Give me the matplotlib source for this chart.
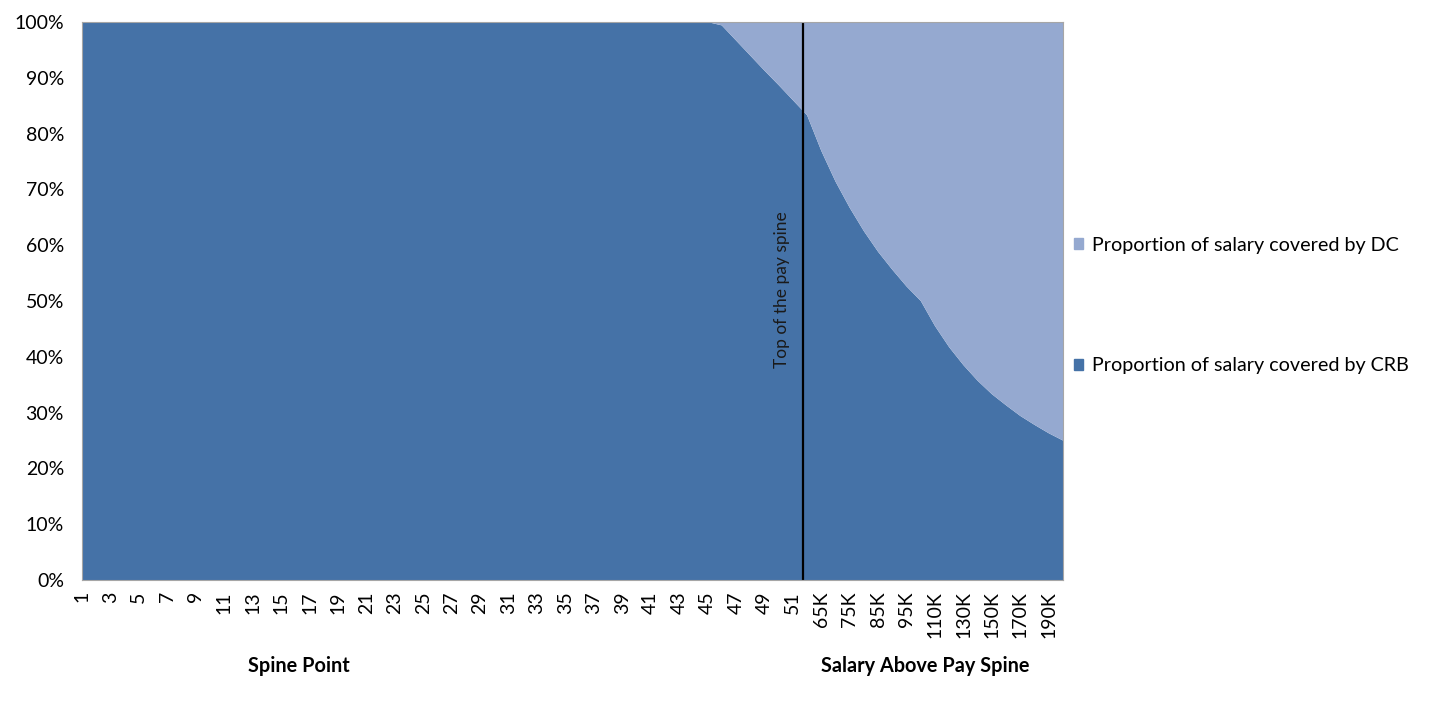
import matplotlib
matplotlib.use("Agg")
import matplotlib.pyplot as plt
from matplotlib.patches import Patch
from matplotlib.ticker import FuncFormatter, MultipleLocator

plt.rcParams["font.family"] = ["Lato", "DejaVu Sans"]

# categories: spine points 1-51, then salaries above the pay spine
spine_points = [str(i) for i in range(1, 52)]
salaries = ["60K", "65K", "70K", "75K", "80K", "85K", "90K", "95K", "100K",
            "110K", "120K", "130K", "140K", "150K", "160K", "170K", "180K",
            "190K", "200K"]
categories = spine_points + salaries

# proportion of salary covered by CRB (%)
crb_spine = [100.0] * 45 + [99.4, 96.7, 94.0, 91.3, 88.7, 86.0]
crb_salary = [83.3, 76.9, 71.4, 66.7, 62.5, 58.8, 55.6, 52.6, 50.0,
              45.5, 41.7, 38.5, 35.7, 33.3, 31.3, 29.4, 27.8, 26.3, 25.0]
crb = crb_spine + crb_salary
dc = [100.0 - v for v in crb]

pay_spine_top = 50.7  # position of the marker line (category index)

dark = "#4572A7"
light = "#95A9D0"

fig = plt.figure(figsize=(14.41, 7.04), dpi=100)
ax = fig.add_axes([0.0569, 0.1761, 0.6808, 0.7926])

x = list(range(len(categories)))
ax.stackplot(x, crb, dc, colors=[dark, light], linewidth=0)
ax.axvline(pay_spine_top, color="black", lw=1.6)
ax.text(pay_spine_top - 1.5, 52, "Top of the pay spine", rotation=90,
        ha="center", va="center", fontsize=12.5, color="#1a1a1a")

ax.set_xlim(0, len(categories) - 1)
ax.set_ylim(0, 100)
ax.yaxis.set_major_locator(MultipleLocator(10))
ax.yaxis.set_major_formatter(FuncFormatter(lambda v, _: f"{v:.0f}%"))
ax.set_xticks(x[::2])
ax.set_xticklabels(categories[::2], rotation=90)
ax.tick_params(axis="both", length=0, labelsize=14, colors="black")
ax.tick_params(axis="x", pad=8)
ax.tick_params(axis="y", pad=13)
for s in ax.spines.values():
    s.set_color("#a6a6a6")
    s.set_linewidth(0.8)

fig.text(299 / 1441, 1 - 666 / 704, "Spine Point", ha="center", va="center",
         fontsize=14.3, fontweight="bold")
fig.text(925 / 1441, 1 - 666 / 704, "Salary Above Pay Spine", ha="center",
         va="center", fontsize=14.3, fontweight="bold")

handles = [Patch(color=light), Patch(color=dark)]
labels = ["Proportion of salary covered by DC", "Proportion of salary covered by CRB"]
for h, lab, yy in zip(handles, labels, [245, 366]):
    fig.legend([h], [lab], loc="center left", bbox_to_anchor=(1074 / 1441, 1 - yy / 704),
               frameon=False, fontsize=14.2, handlelength=0.45, handleheight=0.45,
               handletextpad=0.45, borderpad=0, borderaxespad=0)

fig.savefig("out.png", dpi=100)
